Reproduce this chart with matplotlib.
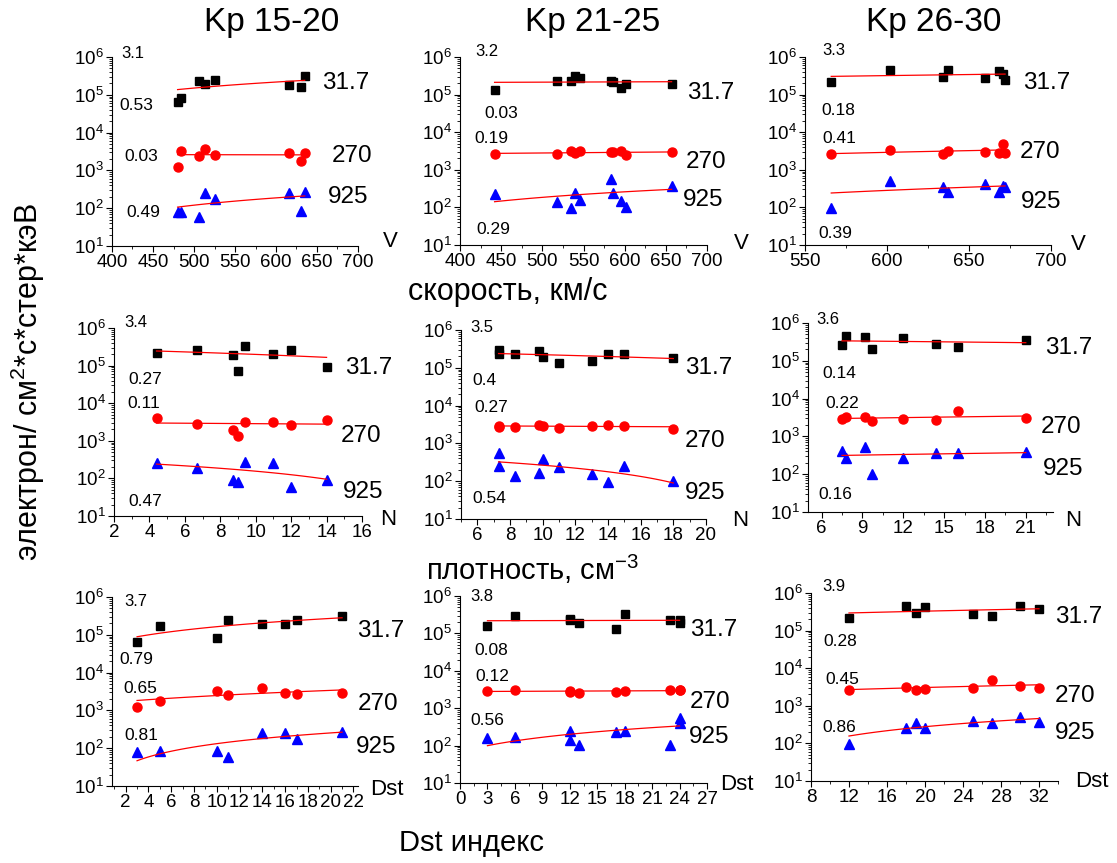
import numpy as np
import matplotlib
matplotlib.use("Agg")
import matplotlib.pyplot as plt
from matplotlib.ticker import MultipleLocator, LogLocator, LogFormatterSciNotation, NullFormatter

plt.rcParams['font.family'] = ['Liberation Sans', 'DejaVu Sans']
plt.rcParams['mathtext.fontset'] = 'custom'
plt.rcParams['mathtext.rm'] = 'Liberation Sans'
plt.rcParams['mathtext.it'] = 'Liberation Sans:italic'
plt.rcParams['axes.unicode_minus'] = False

# --- data ---
energies = ["31.7", "270", "925"]

# row 1: solar wind speed V
v1 = [480, 484, 506, 514, 526, 616, 630, 635]
v1_e31 = [6.5e4, 8.2e4, 2.3e5, 1.9e5, 2.4e5, 1.85e5, 1.65e5, 3.1e5]
v1_e270 = [1230, 3260, 2400, 3760, 2600, 2890, 1730, 2890]
v1_e925 = [77, 80, 57, 245, 170, 245, 85, 266]

v2 = [442, 518, 535, 540, 546, 584, 586, 595, 602, 657]
v2_e31 = [1.31e5, 2.26e5, 2.31e5, 3.2e5, 2.72e5, 2.31e5, 2.22e5, 1.51e5, 1.89e5, 1.92e5]
v2_e270 = [2630, 2630, 3100, 2740, 3160, 3030, 2920, 3100, 2430, 2970]
v2_e925 = [229, 138, 96, 239, 162, 562, 249, 147, 100, 381]

v3 = [566, 602, 634, 637, 660, 668, 671, 672]
v3_e31 = [2.1e5, 4.4e5, 2.9e5, 4.5e5, 2.8e5, 4.15e5, 3.6e5, 2.5e5]
v3_e270 = [2600, 3400, 2600, 3190, 2940, 2880, 4810, 2880]
v3_e925 = [95, 518, 358, 263, 422, 263, 372, 358]

# row 2: density N
n1 = [4.4, 6.7, 8.7, 9.0, 9.4, 11.0, 12.0, 14.0]
n1_e31 = [2.1e5, 2.65e5, 1.9e5, 7.2e4, 3.4e5, 2.05e5, 2.55e5, 9.0e4]
n1_e270 = [4100, 2840, 1920, 1360, 3210, 3210, 2670, 3630]
n1_e925 = [264, 194, 91, 81, 281, 254, 60, 91]

n2 = [7.3, 7.3, 8.3, 9.8, 10.0, 11.0, 13.0, 14.0, 15.0, 18.0]
n2_e31 = [2.94e5, 2.3e5, 2.25e5, 2.76e5, 1.95e5, 1.3e5, 1.5e5, 2.25e5, 2.35e5, 1.84e5]
n2_e270 = [2960, 2730, 2680, 3080, 2900, 2620, 2960, 3150, 2900, 2420]
n2_e925 = [558, 248, 140, 165, 395, 238, 158, 97, 253, 101]

n3 = [7.5, 7.8, 9.2, 9.7, 12.0, 14.4, 16.0, 21.0]
n3_e31 = [2.66e5, 4.4e5, 4.25e5, 2.04e5, 4.0e5, 2.72e5, 2.31e5, 3.6e5]
n3_e270 = [2950, 3190, 3260, 2550, 2890, 2720, 4620, 3010]
n3_e925 = [408, 266, 521, 102, 261, 361, 361, 392]

# row 3: Dst index
d1 = [3, 5, 10, 11, 14, 16, 17, 21]
d1_e31 = [6.5e4, 1.67e5, 8.4e4, 2.4e5, 1.96e5, 1.92e5, 2.4e5, 3.1e5]
d1_e270 = [1265, 1790, 3360, 2480, 3800, 2970, 2690, 2970]
d1_e925 = [78, 86, 85, 60, 249, 249, 180, 275]

d2 = [3, 6, 12, 12, 13, 17, 18, 23, 24, 24]
d2_e31 = [1.59e5, 2.87e5, 2.44e5, 2.25e5, 1.91e5, 1.35e5, 3.25e5, 2.34e5, 2.25e5, 1.91e5]
d2_e270 = [2940, 3130, 2830, 2710, 2500, 2660, 2830, 3130, 3070, 3070]
d2_e925 = [155, 165, 253, 143, 101, 238, 253, 101, 562, 397]

d3 = [12, 18, 19, 20, 25, 27, 30, 32]
d3_e31 = [2.1e5, 4.6e5, 2.9e5, 4.2e5, 2.8e5, 2.4e5, 4.6e5, 3.7e5]
d3_e270 = [2630, 3230, 2690, 2860, 3040, 4760, 3370, 3040]
d3_e925 = [99, 255, 339, 260, 399, 353, 490, 376]

panel_x = [v1, v2, v3, n1, n2, n3, d1, d2, d3]
panel_y = [
    [v1_e31, v1_e270, v1_e925], [v2_e31, v2_e270, v2_e925], [v3_e31, v3_e270, v3_e925],
    [n1_e31, n1_e270, n1_e925], [n2_e31, n2_e270, n2_e925], [n3_e31, n3_e270, n3_e925],
    [d1_e31, d1_e270, d1_e925], [d2_e31, d2_e270, d2_e925], [d3_e31, d3_e270, d3_e925],
]
panel_num = ["3.1", "3.2", "3.3", "3.4", "3.5", "3.6", "3.7", "3.8", "3.9"]
r_vals = [["0.53", "0.03", "0.49"], ["0.03", "0.19", "0.29"], ["0.18", "0.41", "0.39"],
          ["0.27", "0.11", "0.47"], ["0.4", "0.27", "0.54"], ["0.14", "0.22", "0.16"],
          ["0.79", "0.65", "0.81"], ["0.08", "0.12", "0.56"], ["0.28", "0.45", "0.86"]]
x_names = ["V", "V", "V", "N", "N", "N", "Dst", "Dst", "Dst"]
col_titles = ["Kp 15-20", "Kp 21-25", "Kp 26-30"]

# --- layout (pixels of the 1117x863 picture) ---
W, H = 1117, 863
rects_px = [(112, 57, 358, 246), (460, 57, 707, 245), (805, 57, 1051, 245),
            (114, 328, 362, 516), (461, 330, 706, 519), (808, 323, 1053, 512),
            (112, 597, 358, 786), (460, 596, 707, 783), (811, 593, 1058, 781)]
xlims = [(400, 700), (400, 700), (550, 700), (2, 16), (5, 20), (5, 23),
         (0.8, 22.4), (0, 27), (8, 34)]
xmajor = [50, 50, 50, 2, 2, 3, 2, 3, 4]
num_pos = [(0.083, 1.016), (0.108, 1.028), (0.118, 1.037), (0.088, 1.028), (0.084, 1.014),
           (0.08, 1.017), (0.098, 0.977), (0.088, 0.995), (0.093, 1.035)]
r_pos = [[(0.10, 0.746), (0.117, 0.476), (0.127, 0.178)],
         [(0.165, 0.697), (0.128, 0.564), (0.135, 0.08)],
         [(0.135, 0.718), (0.14, 0.567), (0.122, 0.062)],
         [(0.128, 0.725), (0.118, 0.60), (0.128, 0.076)],
         [(0.094, 0.735), (0.122, 0.59), (0.116, 0.108)],
         [(0.128, 0.735), (0.138, 0.575), (0.111, 0.094)],
         [(0.10, 0.668), (0.114, 0.518), (0.12, 0.265)],
         [(0.128, 0.71), (0.132, 0.568), (0.111, 0.334)],
         [(0.118, 0.742), (0.125, 0.541), (0.115, 0.283)]]
e_pos = [[(0.852, 0.862), (0.893, 0.476), (0.877, 0.261)],
         [(0.918, 0.807), (0.915, 0.443), (0.904, 0.239)],
         [(0.885, 0.863), (0.874, 0.496), (0.877, 0.227)],
         [(0.933, 0.788), (0.915, 0.423), (0.922, 0.13)],
         [(0.914, 0.797), (0.914, 0.413), (0.914, 0.135)],
         [(0.967, 0.867), (0.95, 0.448), (0.957, 0.23)],
         [(0.995, 0.818), (1.0, 0.435), (0.992, 0.208)],
         [(0.931, 0.817), (0.931, 0.435), (0.928, 0.248)],
         [(0.987, 0.872), (0.987, 0.452), (0.987, 0.253)]]
xname_pos = [(1.13, 0.023), (1.14, 0.01), (1.11, 0.0), (1.106, -0.02), (1.14, -0.007),
             (1.083, -0.044), (1.117, -0.02), (1.12, -0.01), (1.138, 0.0)]

styles = [dict(marker='s', color='black', ms=5.8),
          dict(marker='o', color='red', ms=6.5),
          dict(marker='^', color='blue', ms=7)]

fig = plt.figure(figsize=(W / 100, H / 100), dpi=100)

for i in range(9):
    x0, y0, x1, y1 = rects_px[i]
    ax = fig.add_axes([x0 / W, 1 - y1 / H, (x1 - x0) / W, (y1 - y0) / H])
    xs = np.array(panel_x[i], dtype=float)
    for k in range(3):
        ys = np.array(panel_y[i][k], dtype=float)
        ax.plot(xs, ys, linestyle='none', **styles[k])
        # linear fit, as in the original
        b, a = np.polyfit(xs, ys, 1)
        xf = np.linspace(xs.min(), xs.max(), 60)
        ax.plot(xf, a + b * xf, color='red', lw=0.9)
        ax.text(*r_pos[i][k], r_vals[i][k], transform=ax.transAxes, fontsize=12.5,
                ha='center', va='center')
        ax.text(*e_pos[i][k], energies[k], transform=ax.transAxes, fontsize=17.5,
                ha='left', va='center', clip_on=False)
    ax.text(*num_pos[i], panel_num[i], transform=ax.transAxes, fontsize=12,
            ha='center', va='center')
    ax.text(*xname_pos[i], x_names[i], transform=ax.transAxes, fontsize=16,
            ha='center', va='center')

    ax.set_yscale('log')
    ax.set_ylim(10, 1e6)
    ax.set_xlim(*xlims[i])
    ax.xaxis.set_major_locator(MultipleLocator(xmajor[i]))
    ax.xaxis.set_minor_locator(MultipleLocator(xmajor[i] / 2))
    ax.yaxis.set_major_locator(LogLocator(base=10, numticks=10))
    ax.yaxis.set_major_formatter(LogFormatterSciNotation())
    ax.yaxis.set_minor_locator(LogLocator(base=10, subs=np.arange(2, 10), numticks=10))
    ax.yaxis.set_minor_formatter(NullFormatter())
    ax.spines['top'].set_visible(False)
    ax.spines['right'].set_visible(False)
    ax.tick_params(which='both', direction='out', labelsize=13.5, pad=2)
    ax.tick_params(which='major', length=4)
    ax.tick_params(which='minor', length=2)

for j, t in enumerate(col_titles):
    fig.text([272, 593, 934][j] / W, 1 - 22 / H, t, fontsize=24, ha='center', va='center')

fig.text(508 / W, 1 - 292 / H, "скорость, км/с", fontsize=22, ha='center', va='center')
fig.text(533 / W, 1 - 569 / H, "плотность, см$^{-3}$", fontsize=21, ha='center', va='center')
fig.text(471 / W, 1 - 843 / H, "Dst индекс", fontsize=21, ha='center', va='center')
fig.text(28 / W, 1 - 382 / H, "электрон/ см$^{2}$*с*стер*кэВ", fontsize=22,
         rotation=90, ha='center', va='center')

fig.savefig("out.png", dpi=100)
